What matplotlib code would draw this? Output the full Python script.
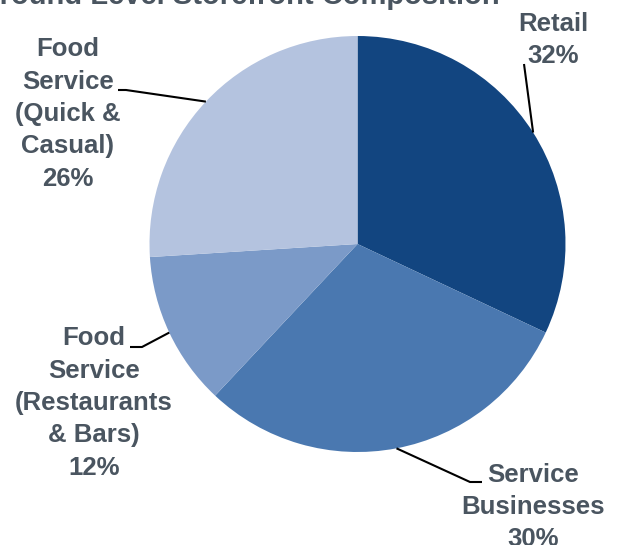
import numpy as np
import matplotlib
matplotlib.use("Agg")
import matplotlib.pyplot as plt

# Storefront composition shares (percent)
categories = ["Retail", "Service\nBusinesses", "Food\nService\n(Restaurants\n& Bars)",
              "Food\nService\n(Quick &\nCasual)"]
shares = [32, 30, 12, 26]
colors = ["#124580", "#4a78b0", "#7b9ac8", "#b4c3df"]

TEXT = "#4a5560"
W, H = 617, 545

fig = plt.figure(figsize=(W / 100, H / 100), dpi=100)
ax = fig.add_axes([0, 0, 1, 1])

cx, cy, r = 357.5, H - 244, 208
wedges, _ = ax.pie(shares, colors=colors, startangle=90, counterclock=False,
                   center=(cx, cy), radius=r, frame=True,
                   wedgeprops=dict(linewidth=0))
ax.set_xlim(0, W)
ax.set_ylim(0, H)
ax.set_aspect("equal")
ax.axis("off")

# label placement: (text x, text y, elbow points of leader line) in pixel coords
layout = [
    dict(tx=553, ty=40, pts=[(524, 64)]),
    dict(tx=533, ty=507, pts=[(470, 482), (482, 482)]),
    dict(tx=94, ty=403, pts=[(142, 347), (130, 347)]),
    dict(tx=68, ty=114, pts=[(126, 90), (118, 90)]),
]

for w, cat, val, lay in zip(wedges, categories, shares, layout):
    mid = np.deg2rad((w.theta1 + w.theta2) / 2)
    x0, y0 = cx + r * np.cos(mid), cy + r * np.sin(mid)
    xs = [x0] + [p[0] for p in lay["pts"]]
    ys = [y0] + [H - p[1] for p in lay["pts"]]
    ax.plot(xs, ys, color="black", lw=1.5, solid_capstyle="butt", zorder=3)
    ax.text(lay["tx"], H - lay["ty"], f"{cat}\n{val}%", ha="center", va="center",
            fontsize=18.5, fontweight="bold", color=TEXT, family="Liberation Sans",
            linespacing=1.44)

ax.text(500, H - 4, "Ground Level Storefront Composition", ha="right", va="baseline",
        fontsize=21, fontweight="bold", color=TEXT, family="Liberation Sans")

fig.savefig("out.png", dpi=100)
